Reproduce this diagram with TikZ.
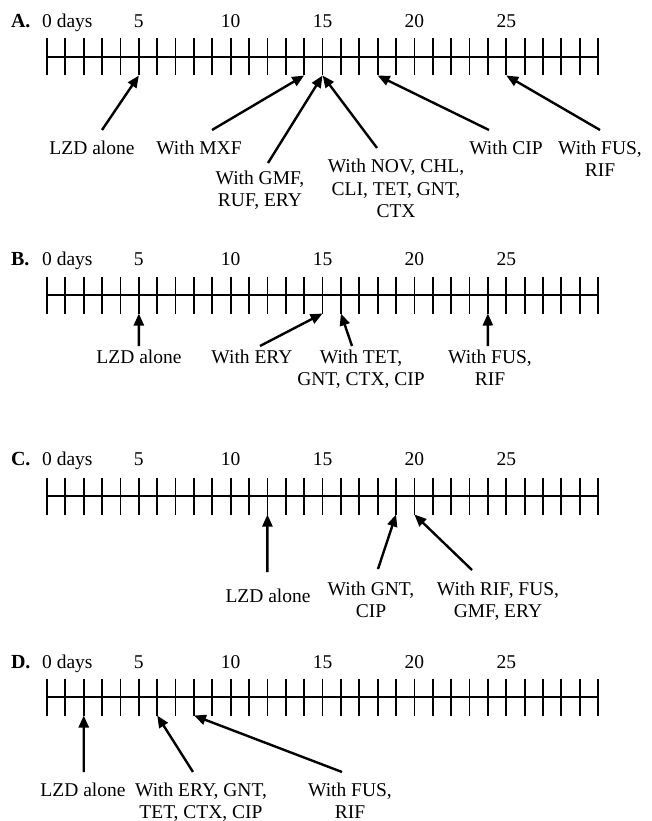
\documentclass[tikz,border=0pt]{standalone}
\usepackage{fontspec}
\setmainfont{Liberation Serif}
\usetikzlibrary{arrows.meta}
\newcommand\stk[1]{\begin{tabular}[t]{@{}c@{}}#1\end{tabular}}
\newcommand\tline[4]{% #1 name, #2 axis y, #3 label baseline, #4 panel letter
  \draw[axisline] (47,#2) -- (598.1,#2);
  \foreach \i in {0,...,30} {
    \draw[tickline] (47+\i*18.37,#2-18.5) -- (47+\i*18.37,#2+18.5);
    \coordinate (#1\i) at (47+\i*18.37,#2+18.5);
  }
  \node[txt,font=\fontsize{20}{22}\selectfont\bfseries,anchor=base west] (#1lab) at (11,#3) {#4};
  \node[txt,anchor=base west] (#1n0) at (42.2,#3) {0 days};
  \foreach \k in {5,10,15,20,25} {
    \node[txt,anchor=base] (#1n\k) at (47+\k*18.37,#3) {\k};
  }
}
\begin{document}
\begin{tikzpicture}[x=1pt,y=-1pt,
  txt/.style={inner sep=0pt,outer sep=0pt,font=\fontsize{19.5}{22}\selectfont},
  lbl/.style={txt,anchor=base},
  axisline/.style={line width=1.8pt},
  tickline/.style={line width=1.8pt},
  arr/.style={line width=2.4pt,-{Triangle[length=12pt,width=10pt]}}]
\useasboundingbox (0,0) rectangle (651,821);
\fill[white] (0,0) rectangle (651,821);
\renewcommand\arraystretch{1}
% ---------------- A
\tline{A}{57}{28}{A.}
\node[lbl] (aLZD) at (92,155) {LZD alone};
\node[lbl] (aMXF) at (199,155) {With MXF};
\node[lbl] (aGMF) at (260,184) {\stk{With GMF,\\RUF, ERY}};
\node[lbl] (aNOV) at (396,173) {\stk{With NOV, CHL,\\CLI, TET, GNT,\\CTX}};
\node[lbl] (aCIP) at (506,155) {With CIP};
\node[lbl] (aFUS) at (600,155) {\stk{With FUS,\\RIF}};
\coordinate (sA1) at (102,130);
\coordinate (sA2) at (212,130);
\coordinate (sA3) at (268,163);
\coordinate (sA4) at (377,148);
\coordinate (sA5) at (489,130);
\coordinate (sA6) at (600,130);
\draw[arr] (sA1) -- (A5);
\draw[arr] (sA2) -- (A14);
\draw[arr] (sA3) -- (A15);
\draw[arr] (sA4) -- (A15);
\draw[arr] (sA5) -- (A18);
\draw[arr] (sA6) -- (A25);
% ---------------- B
\tline{B}{295}{265}{B.}
\node[lbl] (bLZD) at (139,363) {LZD alone};
\node[lbl] (bERY) at (252,363) {With ERY};
\node[lbl] (bTET) at (361,363) {\stk{With TET,\\GNT, CTX, CIP}};
\node[lbl] (bFUS) at (490,363) {\stk{With FUS,\\RIF}};
\coordinate (sB1) at (138.85,346);
\coordinate (sB2) at (260,346);
\coordinate (sB3) at (352,346);
\coordinate (sB4) at (487.9,346);
\draw[arr] (sB1) -- (B5);
\draw[arr] (sB2) -- (B15);
\draw[arr] (sB3) -- (B16);
\draw[arr] (sB4) -- (B24);
% ---------------- C
\tline{C}{496}{465}{C.}
\node[lbl] (cLZD) at (268,602) {LZD alone};
\node[lbl] (cGNT) at (371,595) {\stk{With GNT,\\CIP}};
\node[lbl] (cRIF) at (498,595) {\stk{With RIF, FUS,\\GMF, ERY}};
\coordinate (sC1) at (267.44,572);
\coordinate (sC2) at (378,569);
\coordinate (sC3) at (472,570);
\draw[arr] (sC1) -- (C12);
\draw[arr] (sC2) -- (C19);
\draw[arr] (sC3) -- (C20);
% ---------------- D
\tline{D}{697}{668}{D.}
\node[lbl] (dLZD) at (83,796) {LZD alone};
\node[lbl] (dERY) at (201,796) {\stk{With ERY, GNT,\\TET, CTX, CIP}};
\node[lbl] (dFUS) at (350,796) {\stk{With FUS,\\RIF}};
\coordinate (sD1) at (83.74,772);
\coordinate (sD2) at (193,772);
\coordinate (sD3) at (342,772);
\draw[arr] (sD1) -- (D2);
\draw[arr] (sD2) -- (D6);
\draw[arr] (sD3) -- (D8);
\end{tikzpicture}
\end{document}
